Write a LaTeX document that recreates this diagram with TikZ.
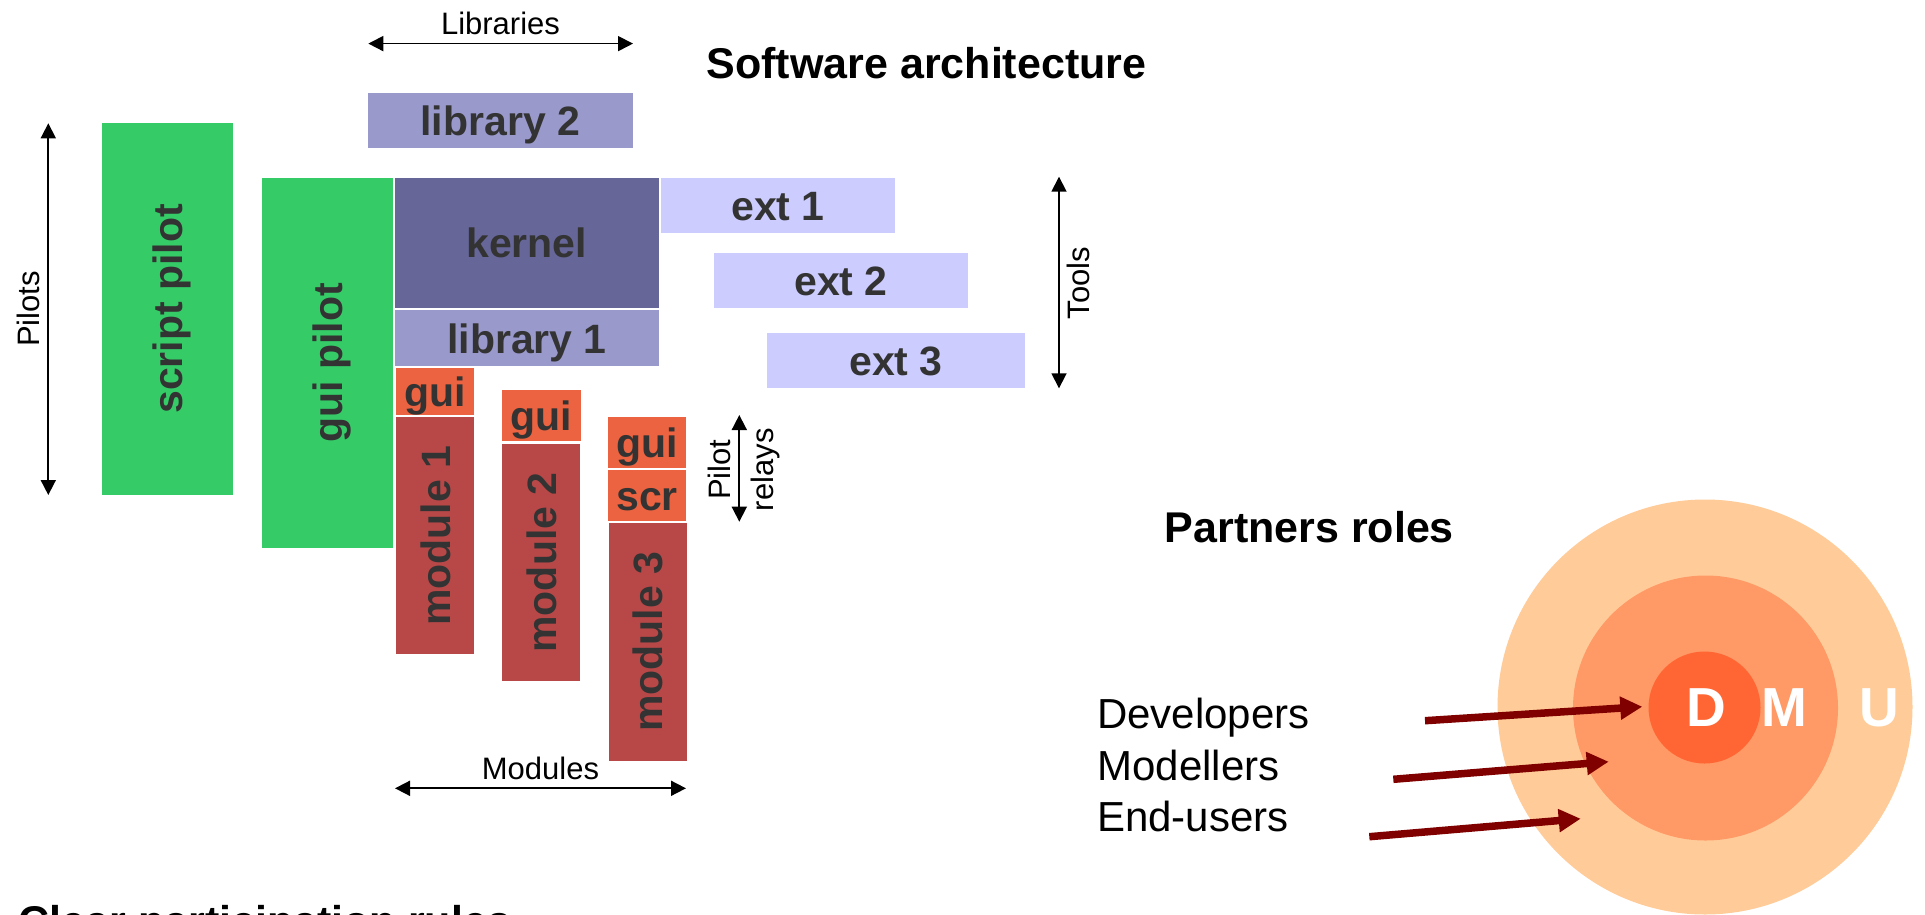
\documentclass[tikz,border=0pt]{standalone}
\usepackage{fontspec}
\setmainfont{Liberation Sans}
\usetikzlibrary{arrows.meta}
\definecolor{cgreen}{HTML}{35CC68}
\definecolor{clib}{HTML}{9999CC}
\definecolor{ckern}{HTML}{666699}
\definecolor{cext}{HTML}{CCCCFF}
\definecolor{cgui}{HTML}{EB6340}
\definecolor{cmod}{HTML}{B84848}
\definecolor{ctext}{HTML}{333333}
\definecolor{couter}{HTML}{FFCC99}
\definecolor{cmid}{HTML}{FF9966}
\definecolor{cinner}{HTML}{FF6633}
\definecolor{cmaroon}{HTML}{800000}
\tikzset{
  blk/.style={rectangle, inner sep=0pt, outer sep=0pt, draw=none},
  btxt/.style={inner sep=0pt, text=ctext, font=\fontsize{41}{49}\selectfont\bfseries, text height=30pt, text depth=0pt},
  lbl/.style={inner sep=0pt, font=\fontsize{31}{32}\selectfont, text=black},
  ttl/.style={inner sep=0pt, font=\fontsize{43}{50}\selectfont\bfseries, anchor=base west},
  dimarrow/.style={{Triangle[length=15pt,width=15pt]}-{Triangle[length=15pt,width=15pt]}, line width=1.7pt, black},
  role/.style={inner sep=0pt, font=\fontsize{42}{50}\selectfont, anchor=base west},
  ptr/.style={-{Triangle[length=22pt,width=22pt]}, line width=7.5pt, cmaroon},
  ring/.style={circle, inner sep=0pt, outer sep=0pt, draw=none},
  dmu/.style={inner sep=0pt, font=\fontsize{55}{60}\selectfont\bfseries, text=white, anchor=base},
}
\begin{document}
\begin{tikzpicture}[x=1pt, y=-1pt]
\useasboundingbox (0,0) rectangle (1925,914);
\fill[white] (0,0) rectangle (1925,914);
\clip (0,0) rectangle (1925,914);

% titles
\node[ttl] (t1) at (706.5,78.3) {Software architecture};
\node[ttl] (t2) at (1164.5,542.7) {Partners roles};
\node[ttl] (t3) at (18.5,936) {Clear participation rules};

% boxes
\node[blk, fill=clib, minimum width=264.6pt, minimum height=55.3pt] (lib2) at (500.3,120.55) {};
\node[blk, fill=cgreen, minimum width=131pt, minimum height=371.2pt] (sp) at (167.8,308.9) {};
\node[blk, fill=cgreen, minimum width=130.7pt, minimum height=370pt] (gp) at (327.65,362.7) {};
\node[blk, fill=ckern, minimum width=263.5pt, minimum height=130.5pt] (kern) at (526.75,242.75) {};
\node[blk, fill=clib, minimum width=264pt, minimum height=56pt] (lib1) at (527,338) {};
\node[blk, fill=cext, minimum width=234.6pt, minimum height=55pt] (ext1) at (778,205.2) {};
\node[blk, fill=cext, minimum width=254pt, minimum height=55pt] (ext2) at (841,280.5) {};
\node[blk, fill=cext, minimum width=258pt, minimum height=55.6pt] (ext3) at (896,360.5) {};
\node[blk, fill=cgui, minimum width=78pt, minimum height=46.4pt] (gui1) at (435,391.5) {};
\node[blk, fill=cmod, minimum width=78pt, minimum height=237pt] (m1) at (435,535.8) {};
\node[blk, fill=cgui, minimum width=78.4pt, minimum height=51.3pt] (gui2) at (541.5,415.65) {};
\node[blk, fill=cmod, minimum width=77.7pt, minimum height=237pt] (m2) at (541.15,562.5) {};
\node[blk, fill=cgui, minimum width=78pt, minimum height=51.6pt] (gui3) at (647,442.5) {};
\node[blk, fill=cgui, minimum width=78pt, minimum height=50.7pt] (scr) at (647,495.65) {};
\node[blk, fill=cmod, minimum width=78pt, minimum height=237.7pt] (m3) at (647.7,641.85) {};

% box texts
\node[btxt] (lib2t) at (lib2) {library 2};
\node[btxt, rotate=90] (spt) at (sp) {script pilot};
\node[btxt, rotate=90] (gpt) at (gp) {gui pilot};
\node[btxt] (kernt) at (kern) {kernel};
\node[btxt] (lib1t) at (lib1) {library 1};
\node[btxt] (ext1t) at (ext1) {ext 1};
\node[btxt] (ext2t) at (ext2) {ext 2};
\node[btxt] (ext3t) at (ext3) {ext 3};
\node[btxt] (gui1t) at (gui1) {gui};
\node[btxt, rotate=90] (m1t) at (m1) {module 1};
\node[btxt] (gui2t) at (gui2) {gui};
\node[btxt, rotate=90] (m2t) at (m2) {module 2};
\node[btxt] (gui3t) at (gui3) {gui};
\node[btxt] (scrt) at (scr) {scr};
\node[btxt, rotate=90] (m3t) at (m3) {module 3};

% dimension arrows and labels
\coordinate (libA) at (368.3,43.6);
\coordinate (libB) at (633,43.6);
\draw[dimarrow] (libA) -- (libB);
\node[lbl, anchor=base] (libl) at (500.5,34) {Libraries};

\coordinate (pilA) at (48.3,123.3);
\coordinate (pilB) at (48.3,495);
\draw[dimarrow] (pilA) -- (pilB);
\node[lbl, anchor=base, rotate=90] (pill) at (39.3,309) {Pilots};

\coordinate (toolA) at (1059,176.7);
\coordinate (toolB) at (1059,388.3);
\draw[dimarrow] (toolA) -- (toolB);
\node[lbl, anchor=base, rotate=90] (tooll) at (1089.3,283) {Tools};

\coordinate (relA) at (739.3,415);
\coordinate (relB) at (739.3,521.7);
\draw[dimarrow] (relA) -- (relB);
\node[lbl, anchor=base, rotate=90] (rell1) at (730.7,469.7) {Pilot};
\node[lbl, anchor=base, rotate=90] (rell2) at (773,469.7) {relays};

\coordinate (modA) at (395,788.3);
\coordinate (modB) at (686,788.3);
\draw[dimarrow] (modA) -- (modB);
\node[lbl, anchor=base] (modl) at (540.5,779.3) {Modules};

% partners roles circles
\node[ring, fill=couter, minimum size=415pt] (outer) at (1705,707) {};
\node[ring, fill=cmid, minimum size=265pt] (middle) at (1705.5,708) {};
\node[ring, fill=cinner, minimum size=112pt] (inner) at (1704.5,707.5) {};
\node[dmu] (D) at (1706,726) {D};
\node[dmu] (M) at (1784,726) {M};
\node[dmu] (U) at (1879.5,726) {U};

\node[role] (dev) at (1097,728.3) {Developers};
\node[role] (mdl) at (1097.4,780) {Modellers};
\node[role] (endu) at (1097,831.7) {End-users};

\coordinate (a1s) at (1425,720.7);
\coordinate (a1e) at (1642.3,706.7);
\coordinate (a2s) at (1393.3,779.3);
\coordinate (a2e) at (1608.7,761.7);
\coordinate (a3s) at (1369.3,836.7);
\coordinate (a3e) at (1580.7,818.7);
\draw[ptr] (a1s) -- (a1e);
\draw[ptr] (a2s) -- (a2e);
\draw[ptr] (a3s) -- (a3e);
\end{tikzpicture}
\end{document}
